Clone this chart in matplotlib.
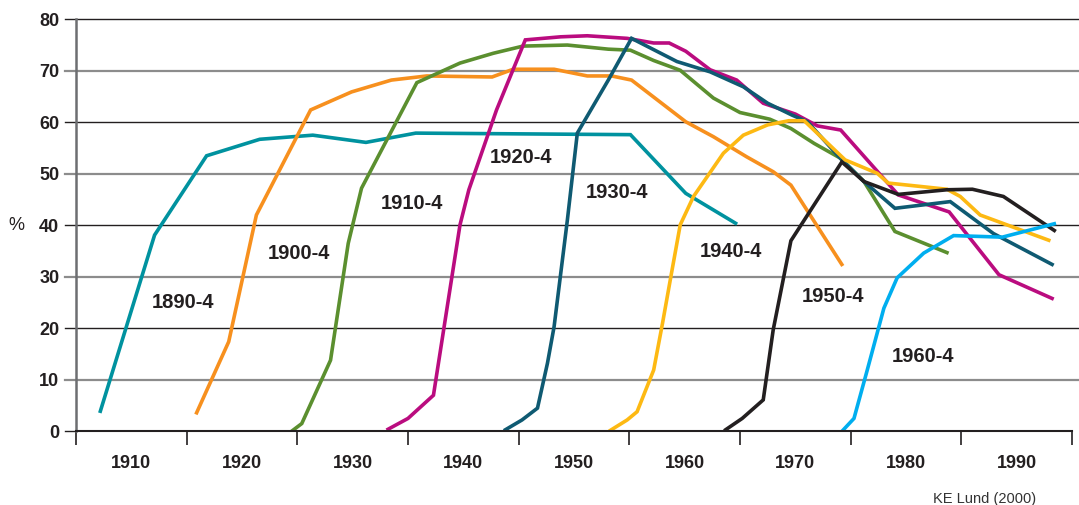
import matplotlib
matplotlib.use('Agg')
import matplotlib.pyplot as plt
from matplotlib.ticker import FixedLocator, NullFormatter, FixedFormatter

plt.rcParams['font.family'] = ['Liberation Sans', 'DejaVu Sans']

# daily smoking (%) by birth cohort
cohorts = ['1890-4', '1900-4', '1910-4', '1920-4', '1930-4', '1940-4', '1950-4', '1960-4']
colors = ['#00929F', '#F7901E', '#5B8F2F', '#BA0C7F', '#0F5A72', '#FDB913', '#231F20', '#00AEEF']

years_1890 = [1907.2, 1912.1, 1916.8, 1921.6, 1926.4, 1931.2, 1935.7, 1955.1, 1960.1, 1964.6]
vals_1890 = [3.9, 38.1, 53.5, 56.7, 57.5, 56.1, 57.9, 57.6, 46.2, 40.4]

years_1900 = [1915.9, 1918.8, 1921.3, 1926.2, 1929.9, 1933.5, 1936.7, 1942.6, 1944.5, 1948.2,
              1951.2, 1953.4, 1955.2, 1960.1, 1962.6, 1965.6, 1968.0, 1969.6, 1974.2]
vals_1900 = [3.6, 17.4, 42.0, 62.4, 65.9, 68.2, 69.0, 68.8, 70.3, 70.3,
             69.0, 69.0, 68.2, 60.1, 57.2, 53.3, 50.4, 47.8, 32.4]

years_1910 = [1924.6, 1925.4, 1928.0, 1929.6, 1930.8, 1935.8, 1939.7, 1942.7, 1945.4, 1949.4,
              1953.1, 1955.1, 1957.2, 1959.6, 1962.6, 1965.0, 1967.7, 1969.6, 1971.7, 1974.1,
              1976.2, 1979.0, 1983.7]
vals_1910 = [0.2, 1.5, 13.8, 36.5, 47.2, 67.7, 71.5, 73.4, 74.8, 75.0,
             74.2, 74.0, 72.0, 70.1, 64.7, 61.9, 60.6, 58.8, 55.9, 53.0,
             48.5, 38.8, 34.7]

years_1920 = [1933.2, 1935.0, 1937.3, 1939.7, 1940.5, 1943.0, 1945.6, 1948.8, 1951.2, 1954.8,
              1957.2, 1958.6, 1960.1, 1962.3, 1964.7, 1967.1, 1970.0, 1972.0, 1974.1, 1979.3,
              1983.9, 1988.4, 1993.2]
vals_1920 = [0.4, 2.5, 7.0, 40.1, 46.9, 62.4, 76.0, 76.6, 76.8, 76.3,
             75.4, 75.4, 73.8, 70.2, 68.2, 63.7, 61.6, 59.3, 58.5, 45.9,
             42.6, 30.4, 25.8]

years_1930 = [1943.8, 1945.3, 1946.7, 1947.6, 1948.2, 1949.4, 1950.3, 1953.1, 1955.2, 1959.3,
              1962.3, 1965.3, 1967.5, 1969.7, 1971.1, 1974.2, 1976.2, 1979.0, 1984.0, 1987.9,
              1993.2]
vals_1930 = [0.3, 2.2, 4.5, 13.2, 20.3, 41.0, 57.9, 68.2, 76.3, 71.8,
             69.8, 66.9, 63.7, 61.4, 60.1, 52.7, 48.5, 43.3, 44.6, 38.4,
             32.4]

years_1940 = [1953.3, 1954.8, 1955.7, 1957.2, 1958.0, 1958.7, 1959.6, 1960.8, 1963.5, 1965.3,
              1967.5, 1969.4, 1970.8, 1974.5, 1977.4, 1978.4, 1983.7, 1984.9, 1986.7, 1992.9]
vals_1940 = [0.2, 2.2, 3.8, 11.9, 21.0, 29.4, 40.1, 45.6, 54.0, 57.5,
             59.5, 60.3, 60.3, 52.7, 50.1, 48.2, 47.0, 45.6, 42.0, 37.1]

years_1950 = [1963.7, 1965.2, 1967.1, 1968.0, 1969.6, 1974.2, 1976.2, 1979.3, 1983.7, 1986.0,
              1988.8, 1993.4]
vals_1950 = [0.3, 2.5, 6.1, 19.7, 37.0, 52.3, 48.5, 46.0, 46.9, 47.0,
             45.6, 39.0]

years_1960 = [1974.3, 1975.3, 1976.5, 1978.0, 1979.2, 1981.6, 1984.3, 1988.7, 1993.4]
vals_1960 = [0.2, 2.5, 11.9, 23.9, 29.8, 34.6, 38.0, 37.7, 40.3]

# label anchor (year, %) for each cohort
label_x = [1914.7, 1925.1, 1935.4, 1945.2, 1953.9, 1964.2, 1973.4, 1981.5]
label_y = [25.0, 34.6, 44.3, 53.1, 46.3, 34.9, 26.1, 14.5]

y_ticks = [0, 10, 20, 30, 40, 50, 60, 70, 80]
decade_labels = ['1910', '1920', '1930', '1940', '1950', '1960', '1970', '1980', '1990']

series = [(years_1890, vals_1890), (years_1900, vals_1900), (years_1910, vals_1910),
          (years_1920, vals_1920), (years_1930, vals_1930), (years_1940, vals_1940),
          (years_1950, vals_1950), (years_1960, vals_1960)]

fig = plt.figure(figsize=(10.79, 5.05), dpi=100)
ax = fig.add_axes([76 / 1079, 1 - 431.3 / 505, 996 / 1079, 412 / 505])

# horizontal grid, alternating dark / grey, running a bit past the axes
for v in y_ticks[1:]:
    dark = (v % 20 == 0)
    ax.axhline(v, xmin=-0.011, xmax=1.008, color='#231F20' if dark else '#8C8C8C',
               lw=1.0 if dark else 1.6, clip_on=False, zorder=0.5)
ax.axhline(0, xmin=-0.011, xmax=0, color='#231F20', lw=1.0, clip_on=False, zorder=0.5)

for (xs, ys), c in zip(series, colors):
    ax.plot(xs, ys, color=c, lw=2.6, solid_joinstyle='miter', zorder=3)

for name, lx, ly in zip(cohorts, label_x, label_y):
    ax.text(lx, ly, name, ha='center', va='center', fontsize=14.5, fontweight='bold',
            color='#231F20', zorder=4)

ax.set_xlim(1905, 1995)
ax.set_ylim(0, 80)

ax.set_yticks(y_ticks)
ax.set_yticklabels([str(v) for v in y_ticks], fontsize=13, fontweight='bold', color='#231F20')
ax.tick_params(axis='y', length=0, pad=12)

ax.xaxis.set_major_locator(FixedLocator(list(range(1905, 1996, 10))))
ax.xaxis.set_major_formatter(NullFormatter())
ax.xaxis.set_minor_locator(FixedLocator(list(range(1910, 1991, 10))))
ax.xaxis.set_minor_formatter(FixedFormatter(decade_labels))
ax.tick_params(axis='x', which='major', length=10, width=1.2, color='#231F20', direction='out')
ax.tick_params(axis='x', which='minor', length=0, pad=17, labelsize=13, labelcolor='#231F20')
for t in ax.xaxis.get_minorticklabels():
    t.set_fontweight('bold')

for s in ['top', 'right']:
    ax.spines[s].set_visible(False)
ax.spines['left'].set_color('#6D6E71')
ax.spines['left'].set_linewidth(1.8)
ax.spines['bottom'].set_color('#231F20')
ax.spines['bottom'].set_linewidth(1.5)
ax.spines['bottom'].set_zorder(5)

fig.text(16 / 1079, 1 - 225 / 505, '%', ha='center', va='center', fontsize=13, color='#231F20')
fig.text(985 / 1079, 1 - 499 / 505, 'KE Lund (2000)', ha='center', va='center', fontsize=10.5,
         color='#333333')

fig.savefig('out.png', dpi=100)
